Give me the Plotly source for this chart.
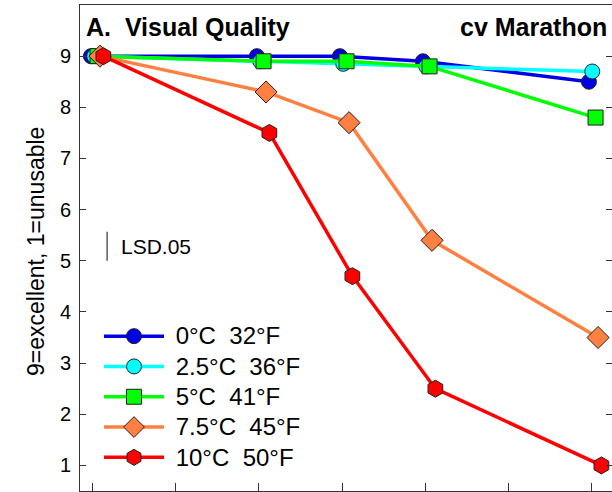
import plotly.graph_objects as go

# ---- data ----
days = [0, 4, 6, 8, 12]
names = ["0°C  32°F", "2.5°C  36°F", "5°C  41°F", "7.5°C  45°F", "10°C  50°F"]
q_0C = [9.0, 9.0, 9.0, 8.9, 8.5]
q_2_5C = [9.0, 8.9, 8.85, 8.8, 8.7]
q_5C = [9.0, 8.9, 8.9, 8.8, 7.8]
q_7_5C = [9.0, 8.3, 7.7, 5.4, 3.5]
q_10C = [9.0, 7.5, 4.7, 2.5, 1.0]
lsd_05 = 0.57
y_ticks = [1, 2, 3, 4, 5, 6, 7, 8, 9]
x_ticks = [0, 2, 4, 6, 8, 10, 12]

series = [q_0C, q_2_5C, q_5C, q_7_5C, q_10C]
colors = ["#0000E6", "#00FFFF", "#00FF00", "#FF8040", "#FF0000"]
symbols = ["circle", "circle", "square", "diamond", "hexagon"]
sizes = [15, 15, 15, 17, 17]
jitter = [-0.05, 0.03, 0.11, 0.17, 0.25]  # horizontal dodge so markers don't overlap

FONT = "Liberation Sans, Arial, sans-serif"

fig = go.Figure()
for vals, name, c, s, sz, dx in zip(series, names, colors, symbols, sizes, jitter):
    fig.add_trace(go.Scatter(
        x=[d + dx for d in days], y=vals,
        name='<span style="font-size:24px">&nbsp;' + name + '</span>',
        mode="lines+markers",
        line=dict(color=c, width=3.5),
        marker=dict(symbol=s, size=sz, color=c, line=dict(color="#222", width=1)),
    ))

# LSD bar
lsd_x = 0.34
lsd_base = 5.0
fig.add_trace(go.Scatter(x=[lsd_x, lsd_x], y=[lsd_base, lsd_base + lsd_05], mode="lines",
                         line=dict(color="#333", width=1.2), showlegend=False, hoverinfo="skip"))
fig.add_annotation(x=lsd_x, y=lsd_base + lsd_05 / 2, xref="x", yref="y", text="LSD.05",
                   showarrow=False, xanchor="left", xshift=12,
                   font=dict(family=FONT, size=21, color="black"))

fig.add_annotation(x=4 / 532, y=1, xref="paper", yref="paper", yanchor="top", yshift=-6,
                   text="<b>A.  Visual Quality</b>", showarrow=False, xanchor="left",
                   font=dict(family=FONT, size=25, color="black"))
fig.add_annotation(x=(609 - 80) / 532, y=1, xref="paper", yref="paper", yanchor="top", yshift=-6,
                   text="<b>cv Marathon</b>", showarrow=False, xanchor="right",
                   font=dict(family=FONT, size=25, color="black"))
fig.add_annotation(x=-59 / 532, y=(491 - 252) / 486, xref="paper", yref="paper",
                   text="9=excellent, 1=unusable", textangle=-90, showarrow=False,
                   font=dict(family=FONT, size=23, color="black"))

fig.update_layout(
    width=612, height=492,
    margin=dict(l=80, r=0, t=5, b=1),
    paper_bgcolor="white", plot_bgcolor="white",
    font=dict(family=FONT, color="black"),
    showlegend=True,
    legend=dict(x=19 / 532, y=(491 - 316) / 486, xanchor="left", yanchor="top",
                bgcolor="rgba(0,0,0,0)", font=dict(family=FONT, size=21),
                itemwidth=60, tracegroupgap=0),
    xaxis=dict(range=[-0.313, 12.506], tickvals=x_ticks, showticklabels=False,
               ticks="inside", ticklen=8, tickcolor="#333", showgrid=False, zeroline=False,
               showline=True, linecolor="#333", linewidth=1, mirror=True),
    yaxis=dict(range=[0.5, 10], tickvals=y_ticks, ticks="inside", ticklen=6, tickcolor="#333",
               showgrid=False, zeroline=False, showline=True, linecolor="#333", linewidth=1,
               mirror="ticks", tickfont=dict(family=FONT, size=20), ticklabelstandoff=4),
)

fig.write_html("out.html")
